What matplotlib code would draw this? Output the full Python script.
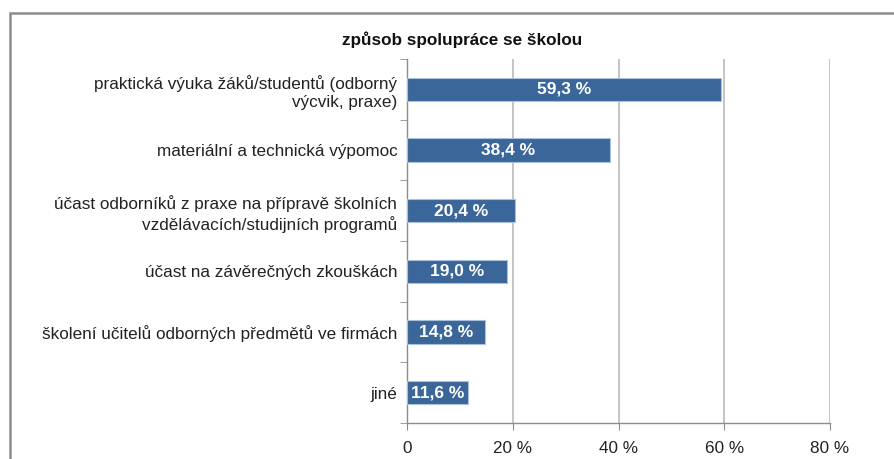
import matplotlib.pyplot as plt
from matplotlib.patches import Rectangle
from matplotlib.ticker import FixedLocator

plt.rcParams['font.family'] = ['Liberation Sans', 'DejaVu Sans']

categories = [
    'praktická výuka žáků/studentů (odborný\nvýcvik, praxe)',
    'materiální a technická výpomoc',
    'účast odborníků z praxe na přípravě školních\nvzdělávacích/studijních programů',
    'účast na závěrečných zkouškách',
    'školení učitelů odborných předmětů ve firmách',
    'jiné',
]
values = [59.3, 38.4, 20.4, 19.0, 14.8, 11.6]
xticks = [0, 20, 40, 60, 80]
xtick_labels = ['0', '20 %', '40 %', '60 %', '80 %']

W, H = 895, 459
fig = plt.figure(figsize=(W / 100, H / 100), dpi=100)
ax = fig.add_axes([407 / W, 1 - 423 / H, (830 - 407) / W, (423 - 59) / H])

# outer frame (runs off the right and bottom edge)
fig.patches.append(Rectangle((10 / W, -0.1), 1.2, 1 - 13 / H + 0.1, transform=fig.transFigure,
                             fill=False, edgecolor='#8c8c8c', linewidth=1.8, zorder=0))

ypos = list(range(len(categories)))
ax.barh(ypos, values, height=0.39, color='#3a6699', edgecolor='#a9c1dd', linewidth=0.8, zorder=3)
for y, v in zip(ypos, values):
    ax.text(v / 2, y, ('%.1f %%' % v).replace('.', ','), ha='center', va='center',
            color='white', fontweight='bold', fontsize=12.5, zorder=4)

ax.set_xlim(0, 80)
ax.set_ylim(len(categories) - 0.5, -0.5)
ax.set_xticks(xticks)
ax.set_xticklabels(xtick_labels, fontsize=12.3, color='#222222')
ax.set_yticks(ypos)
ax.set_yticklabels(categories, fontsize=12.3, color='#222222', linespacing=1.3)
ax.yaxis.set_minor_locator(FixedLocator([i - 0.5 for i in range(len(categories) + 1)]))
ax.tick_params(axis='y', which='major', length=0, pad=7)
ax.tick_params(axis='y', which='minor', length=5, color='#8c8c8c', direction='out')
ax.tick_params(axis='x', length=5, color='#8c8c8c', direction='out', pad=8)
ax.grid(axis='x', color='#bfbfbf', linewidth=1.3, zorder=0)
for s in ['top', 'right']:
    ax.spines[s].set_visible(False)
for s in ['left', 'bottom']:
    ax.spines[s].set_color('#8c8c8c')
    ax.spines[s].set_linewidth(1.0)

fig.text(462 / W, 1 - 40 / H, 'způsob spolupráce se školou', ha='center', va='center',
         fontweight='bold', fontsize=12.3, color='#111111')

fig.savefig('out.png', dpi=100)
